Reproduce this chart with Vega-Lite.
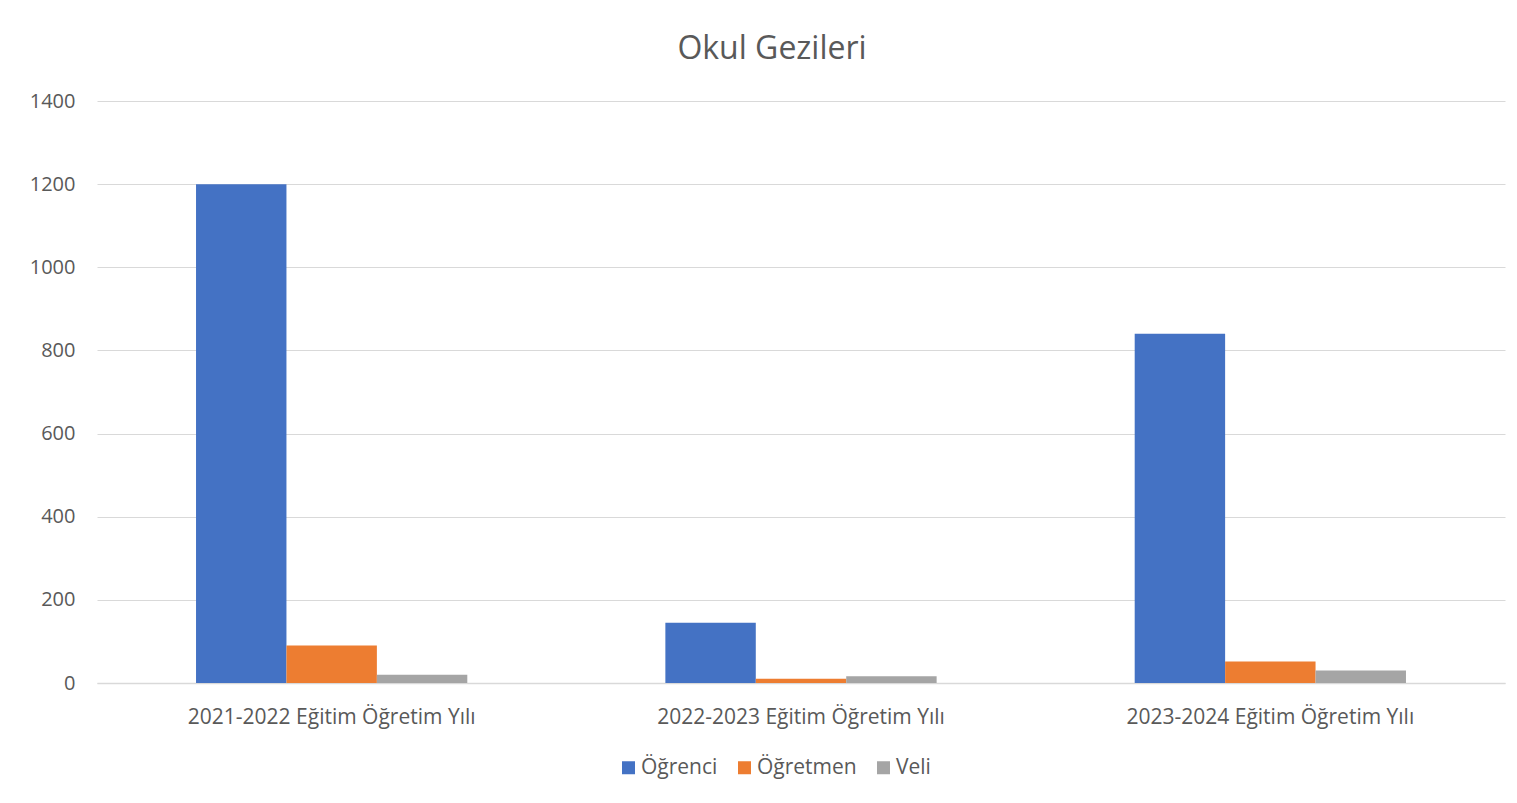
{
  "$schema": "https://vega.github.io/schema/vega-lite/v6.json",
  "width": 1408,
  "height": 582,
  "autosize": {"type": "none"},
  "padding": {"left": 97, "top": 101, "right": 12, "bottom": 120},
  "background": "white",
  "title": {
    "text": "Okul Gezileri",
    "font": "Open Sans",
    "fontSize": 32,
    "fontWeight": "normal",
    "color": "#595959",
    "anchor": "middle",
    "dx": -29,
    "offset": 25
  },
  "data": {
    "values": [
      {"yil": "2021-2022 Eğitim Öğretim Yılı", "grup": "Öğrenci", "sayi": 1200},
      {"yil": "2021-2022 Eğitim Öğretim Yılı", "grup": "Öğretmen", "sayi": 90},
      {"yil": "2021-2022 Eğitim Öğretim Yılı", "grup": "Veli", "sayi": 20},
      {"yil": "2022-2023 Eğitim Öğretim Yılı", "grup": "Öğrenci", "sayi": 145},
      {"yil": "2022-2023 Eğitim Öğretim Yılı", "grup": "Öğretmen", "sayi": 10},
      {"yil": "2022-2023 Eğitim Öğretim Yılı", "grup": "Veli", "sayi": 16},
      {"yil": "2023-2024 Eğitim Öğretim Yılı", "grup": "Öğrenci", "sayi": 840},
      {"yil": "2023-2024 Eğitim Öğretim Yılı", "grup": "Öğretmen", "sayi": 52},
      {"yil": "2023-2024 Eğitim Öğretim Yılı", "grup": "Veli", "sayi": 30}
    ]
  },
  "mark": {"type": "bar"},
  "encoding": {
    "x": {
      "field": "yil",
      "type": "nominal",
      "sort": null,
      "title": null,
      "scale": {"paddingInner": 0.422, "paddingOuter": 0.211},
      "axis": {
        "labelAngle": 0,
        "labelFont": "Open Sans",
        "labelFontSize": 21,
        "labelColor": "#595959",
        "labelPadding": 23,
        "labelLimit": 0,
        "ticks": false,
        "domainColor": "#D9D9D9",
        "domainWidth": 1.5,
        "grid": false
      }
    },
    "xOffset": {
      "field": "grup",
      "type": "nominal",
      "sort": ["Öğrenci", "Öğretmen", "Veli"],
      "scale": {"paddingInner": 0, "paddingOuter": 0}
    },
    "y": {
      "field": "sayi",
      "type": "quantitative",
      "title": null,
      "scale": {"domain": [0, 1400], "nice": false},
      "axis": {
        "values": [0, 200, 400, 600, 800, 1000, 1200, 1400],
        "format": "d",
        "labelFont": "Open Sans",
        "labelFontSize": 20,
        "labelColor": "#595959",
        "labelPadding": 22,
        "ticks": false,
        "domain": false,
        "gridColor": "#D9D9D9",
        "gridWidth": 1.2
      }
    },
    "color": {
      "field": "grup",
      "type": "nominal",
      "sort": ["Öğrenci", "Öğretmen", "Veli"],
      "scale": {"domain": ["Öğrenci", "Öğretmen", "Veli"], "range": ["#4472C4", "#ED7D31", "#A5A5A5"]},
      "legend": {
        "title": null,
        "orient": "none",
        "direction": "horizontal",
        "legendX": 521,
        "legendY": 656,
        "symbolType": "square",
        "symbolSize": 169,
        "symbolStrokeWidth": 0,
        "labelFont": "Open Sans",
        "labelFontSize": 21,
        "labelColor": "#595959",
        "labelOffset": 2,
        "columnPadding": 16
      }
    }
  },
  "config": {
    "view": {"stroke": null}
  }
}
